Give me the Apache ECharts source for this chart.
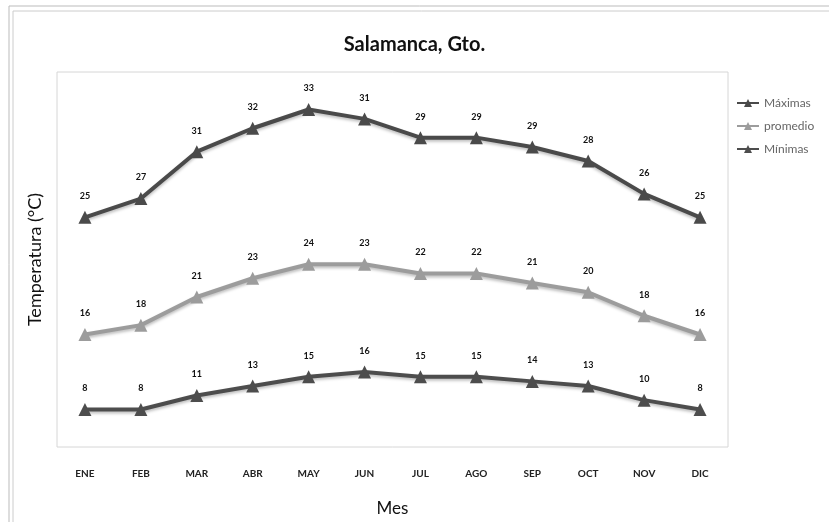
<!DOCTYPE html>
<html>
<head>
<meta charset="utf-8">
<script src="https://cdn.jsdelivr.net/npm/echarts@6/dist/echarts.min.js"></script>
<style>html,body{margin:0;padding:0;background:#fff}#c{width:829px;height:522px}</style>
</head>
<body>
<div id="c"></div>
<script>
const months = ['ENE','FEB','MAR','ABR','MAY','JUN','JUL','AGO','SEP','OCT','NOV','DIC'];
const maximas = [25, 27, 31, 32, 33, 31, 29, 29, 29, 28, 26, 25];
const promedio = [16, 18, 21, 23, 24, 23, 22, 22, 21, 20, 18, 16];
const minimas = [8, 8, 11, 13, 15, 16, 15, 15, 14, 13, 10, 8];

const font = 'Lato, "Open Sans", sans-serif';
function mk(name, data, color) {
  return {
    name: name, type: 'line', stack: 'total', data: data,
    symbol: 'triangle', symbolSize: 13,
    lineStyle: {width: 4, color: color, shadowColor: 'rgba(0,0,0,0.25)', shadowBlur: 3, shadowOffsetY: 2},
    itemStyle: {color: color},
    label: {show: true, position: 'top', distance: 10, color: '#111', fontSize: 9, fontWeight: 'bold', fontFamily: font},
    z: 3
  };
}
const chart = echarts.init(document.getElementById('c'));
chart.setOption({
  animation: false,
  backgroundColor: '#fff',
  title: {text: 'Salamanca, Gto.', left: 'center', top: 30,
    textStyle: {fontFamily: font, fontSize: 20, fontWeight: 'bold', color: '#111'}},
  legend: {
    data: ['Máximas', 'promedio', 'Mínimas'],
    orient: 'vertical', left: 731, top: 92, itemGap: 11,
    itemWidth: 22, itemHeight: 10,
    textStyle: {fontFamily: font, fontSize: 12, color: '#666'}
  },
  grid: {left: 57, right: 101, top: 72, bottom: 72, show: true, borderColor: '#d6d6d6', borderWidth: 1},
  xAxis: {
    type: 'category', data: months, boundaryGap: true,
    axisLine: {show: false}, axisTick: {show: false},
    axisLabel: {margin: 22, fontSize: 10, fontWeight: 'bold', color: '#222', fontFamily: font},
    name: 'Mes', nameLocation: 'middle', nameGap: 53,
    nameTextStyle: {fontSize: 17, color: '#111', fontFamily: font}
  },
  yAxis: {
    type: 'value', min: 0, max: 80,
    axisLine: {show: false}, axisTick: {show: false}, axisLabel: {show: false}, splitLine: {show: false},
    name: 'Temperatura (°C)', nameLocation: 'middle', nameGap: 13, nameRotate: 90,
    nameTextStyle: {fontSize: 18, color: '#111', fontFamily: font}
  },
  graphic: [
    {type: 'rect', shape: {x: 9, y: 6, width: 830, height: 530}, style: {fill: 'none', stroke: '#bbb', lineWidth: 1}},
    {type: 'rect', shape: {x: 13, y: 11, width: 830, height: 530}, style: {fill: 'none', stroke: '#ccc', lineWidth: 1}}
  ],
  series: [
    mk('Mínimas', minimas, '#4d4d4d'),
    mk('promedio', promedio, '#9c9c9c'),
    mk('Máximas', maximas, '#4a4a4a')
  ]
});
</script>
</body>
</html>
